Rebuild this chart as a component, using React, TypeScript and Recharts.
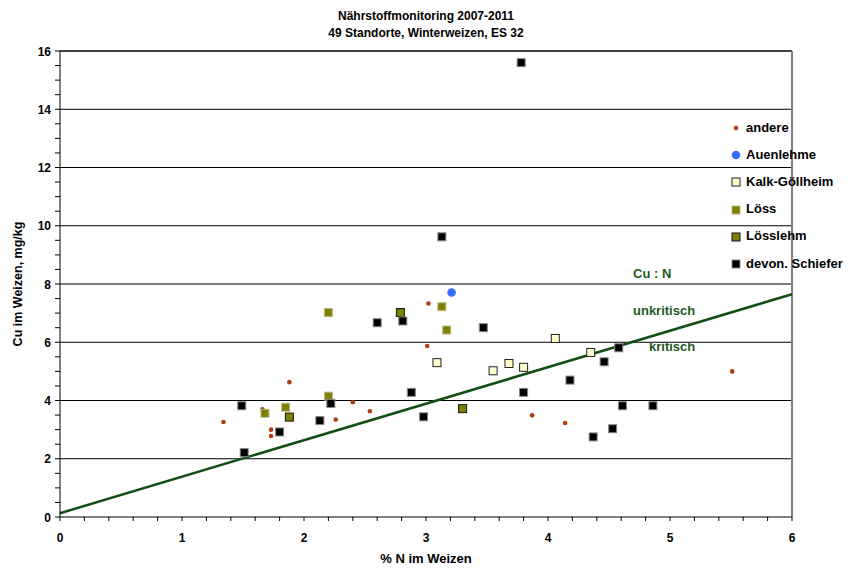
import React from "react";
import {
  ScatterChart,
  Scatter,
  XAxis,
  YAxis,
  ReferenceLine,
} from "recharts";

// ---- data (x = % N im Weizen, y = Cu mg/kg) ----
const andere = [
  { x: 1.34, y: 3.26 }, { x: 1.66, y: 3.7 }, { x: 1.73, y: 3.0 }, { x: 1.73, y: 2.78 },
  { x: 1.88, y: 4.63 }, { x: 2.26, y: 3.35 }, { x: 2.4, y: 3.94 }, { x: 2.54, y: 3.63 },
  { x: 3.02, y: 7.33 }, { x: 3.01, y: 5.87 }, { x: 3.87, y: 3.49 }, { x: 4.14, y: 3.23 },
  { x: 5.51, y: 5.0 },
];
const auenlehme = [{ x: 3.21, y: 7.71 }];
const kalkGoellheim = [
  { x: 3.09, y: 5.3 }, { x: 3.55, y: 5.02 }, { x: 3.68, y: 5.27 }, { x: 3.8, y: 5.14 },
  { x: 4.06, y: 6.13 }, { x: 4.35, y: 5.65 },
];
const loess = [
  { x: 2.2, y: 7.02 }, { x: 3.13, y: 7.22 }, { x: 3.17, y: 6.42 }, { x: 2.2, y: 4.15 },
  { x: 1.85, y: 3.77 }, { x: 1.68, y: 3.56 },
];
const loesslehm = [{ x: 2.79, y: 7.02 }, { x: 1.88, y: 3.43 }, { x: 3.3, y: 3.72 }];
const devonSchiefer = [
  { x: 3.78, y: 15.6 }, { x: 3.13, y: 9.62 }, { x: 2.6, y: 6.67 }, { x: 2.81, y: 6.73 },
  { x: 3.47, y: 6.5 }, { x: 4.58, y: 5.81 }, { x: 4.46, y: 5.33 }, { x: 4.18, y: 4.7 },
  { x: 3.8, y: 4.28 }, { x: 2.88, y: 4.28 }, { x: 1.49, y: 3.82 }, { x: 2.22, y: 3.9 },
  { x: 2.13, y: 3.31 }, { x: 1.8, y: 2.92 }, { x: 2.98, y: 3.44 }, { x: 1.51, y: 2.21 },
  { x: 4.37, y: 2.75 }, { x: 4.53, y: 3.03 }, { x: 4.61, y: 3.82 }, { x: 4.86, y: 3.82 },
];
const cuNLine = [{ x: 0, y: 0.13 }, { x: 6, y: 7.65 }];

const xMajorTicks = [0, 1, 2, 3, 4, 5, 6];
const yMajorTicks = [0, 2, 4, 6, 8, 10, 12, 14, 16];
const gridValues = [2, 4, 6, 8, 10, 12, 14];
const xTicks = Array.from({ length: 31 }, (_, i) => Math.round(i * 2) / 10);
const yTicks = Array.from({ length: 33 }, (_, i) => i / 2);

const FONT = "'Liberation Sans', Arial, Helvetica, sans-serif";
const GREEN = "#0f4f12";
const TEXT_GREEN = "#1e5a1e";

type Kind = "dot" | "circle" | "square";
const series: { name: string; data: { x: number; y: number }[]; kind: Kind; fill: string; stroke: string }[] = [
  { name: "andere", data: andere, kind: "dot", fill: "#a8400e", stroke: "none" },
  { name: "Auenlehme", data: auenlehme, kind: "circle", fill: "#3a6dff", stroke: "none" },
  { name: "Kalk-Göllheim", data: kalkGoellheim, kind: "square", fill: "#ffffcc", stroke: "#222" },
  { name: "Löss", data: loess, kind: "square", fill: "#808000", stroke: "#b8b88a" },
  { name: "Lösslehm", data: loesslehm, kind: "square", fill: "#808000", stroke: "#111" },
  { name: "devon. Schiefer", data: devonSchiefer, kind: "square", fill: "#000", stroke: "#888" },
];

function Marker({ cx, cy, kind, fill, stroke }: any) {
  if (cx == null || cy == null) return null;
  if (kind === "dot") return <circle cx={cx} cy={cy} r={2.3} fill={fill} />;
  if (kind === "circle") return <circle cx={cx} cy={cy} r={4.3} fill={fill} />;
  return (
    <rect x={cx - 4} y={cy - 4} width={8} height={8} fill={fill} stroke={stroke} strokeWidth={1} />
  );
}

const isMajor = (v: number, list: number[]) => list.some((m) => Math.abs(m - v) < 1e-6);

const YTick = (props: any) => {
  const { x, y, payload } = props;
  const v = payload.value;
  return (
    <g>
      <line x1={x - 5} x2={x} y1={y} y2={y} stroke="#000" strokeWidth={1} />
      {isMajor(v, yMajorTicks) && (
        <text x={x - 9} y={y + 4.5} textAnchor="end" fontFamily={FONT} fontWeight="bold" fontSize={12} fill="#000">
          {v}
        </text>
      )}
    </g>
  );
};

const XTick = (props: any) => {
  const { x, y, payload } = props;
  const v = payload.value;
  return (
    <g>
      <line x1={x} x2={x} y1={y} y2={y + 4} stroke="#000" strokeWidth={1} />
      {isMajor(v, xMajorTicks) && (
        <text x={x} y={y + 25} textAnchor="middle" fontFamily={FONT} fontWeight="bold" fontSize={12} fill="#000">
          {Math.round(v)}
        </text>
      )}
    </g>
  );
};

const txt: React.CSSProperties = {
  position: "absolute",
  fontFamily: FONT,
  fontWeight: "bold",
  fontSize: 12,
  whiteSpace: "nowrap",
  lineHeight: "14px",
};

export default function App() {
  return (
    <div style={{ position: "absolute", left: 0, top: 0, width: 848, height: 568, background: "#fff" }}>
      <ScatterChart width={848} height={568} margin={{ top: 51, right: 56, bottom: 0, left: 0 }}>
        <XAxis
          type="number"
          dataKey="x"
          domain={[0, 6]}
          ticks={xTicks}
          interval={0}
          tickSize={0}
          tickMargin={0}
          tickLine={false}
          tick={<XTick />}
          height={51}
          axisLine={{ stroke: "#555", strokeWidth: 1.5 }}
          label={{
            value: "% N im Weizen",
            position: "insideBottom",
            offset: 5,
            style: { fontFamily: FONT, fontWeight: "bold", fontSize: 13, fill: "#000" },
          }}
        />
        <YAxis
          type="number"
          dataKey="y"
          domain={[0, 16]}
          ticks={yTicks}
          interval={0}
          tickSize={0}
          tickMargin={0}
          tickLine={false}
          tick={<YTick />}
          width={60}
          axisLine={{ stroke: "#000", strokeWidth: 1 }}
          label={{
            content: (p: any) => {
              const vb = p.viewBox || { x: 0, y: 51, width: 60, height: 466 };
              const cx = vb.x + 18;
              const cy = vb.y + vb.height / 2;
              return (
                <text
                  x={cx}
                  y={cy}
                  transform={`rotate(-90 ${cx} ${cy})`}
                  textAnchor="middle"
                  dominantBaseline="central"
                  fontFamily={FONT}
                  fontWeight="bold"
                  fontSize={12.5}
                  fill="#000"
                >
                  Cu im Weizen, mg/kg
                </text>
              );
            },
          }}
        />
        {gridValues.map((g) => (
          <ReferenceLine key={g} y={g} stroke="#000" strokeWidth={1} />
        ))}
        <ReferenceLine y={16} stroke="#000" strokeWidth={1.5} />
        <ReferenceLine x={6} stroke="#808080" strokeWidth={2} />
        <ReferenceLine
          segment={[cuNLine[0], cuNLine[1]]}
          stroke={GREEN}
          strokeWidth={2.5}
          ifOverflow="visible"
        />
        {series.map((s) => (
          <Scatter
            key={s.name}
            name={s.name}
            data={s.data}
            isAnimationActive={false}
            shape={(p: any) => <Marker cx={p.cx} cy={p.cy} kind={s.kind} fill={s.fill} stroke={s.stroke} />}
          />
        ))}
      </ScatterChart>

      <div style={{ ...txt, left: 0, width: 852, top: 9, textAlign: "center" }}>Nährstoffmonitoring 2007-2011</div>
      <div style={{ ...txt, left: 0, width: 852, top: 26, textAlign: "center" }}>49 Standorte, Winterweizen, ES 32</div>

      <div style={{ ...txt, fontSize: 13, left: 633, top: 267, color: TEXT_GREEN }}>Cu : N</div>
      <div style={{ ...txt, fontSize: 13, left: 633, top: 304, color: TEXT_GREEN }}>unkritisch</div>
      <div style={{ ...txt, fontSize: 13, left: 649, top: 340, color: TEXT_GREEN }}>kritisch</div>

      <div style={{ position: "absolute", left: 730, top: 120 }}>
        {series.map((s, i) => (
          <div key={s.name} style={{ position: "absolute", left: 0, top: i * 27.2, height: 16, width: 118 }}>
            <svg width={12} height={16} style={{ position: "absolute", left: 0, top: 0 }}>
              <Marker cx={6} cy={8} kind={s.kind} fill={s.fill} stroke={s.stroke} />
            </svg>
            <div style={{ ...txt, fontSize: 13, left: 16, top: 0.5 }}>{s.name}</div>
          </div>
        ))}
      </div>
    </div>
  );
}
